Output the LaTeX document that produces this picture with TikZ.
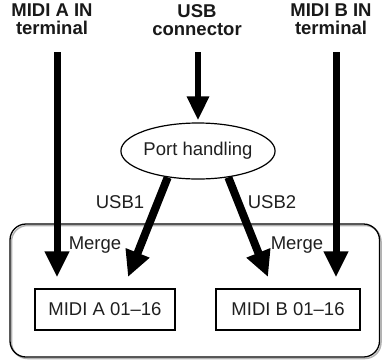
\documentclass[tikz,border=0pt]{standalone}
\usepackage{fontspec}
\setmainfont{Liberation Sans}
\usetikzlibrary{arrows.meta,shapes.geometric}
\begin{document}
\begin{tikzpicture}[x=1pt,y=-1pt,
  txt/.style={text=black!88,font=\fontsize{18.5}{20}\selectfont,inner sep=0pt},
  ttl/.style={text=black!90,font=\fontsize{18.5}{18}\selectfont\bfseries,align=center,inner sep=0pt,anchor=north},
  midibox/.style={draw,line width=1.2pt,minimum height=41pt,txt},
  bigarrow/.style={line width=7pt,-{Triangle[width=23pt,length=26pt]}},
]
\useasboundingbox (0,0) rectangle (382,360);
% outer rounded frame
\draw[gray!60,line width=1.5pt,rounded corners=16pt] (11.5,225.5) rectangle (381,358.5);
\draw[line width=1.3pt,rounded corners=16pt] (10,224) rectangle (379.5,357);
% titles
\node[ttl] (tA) at (52,4) {MIDI A IN\\terminal};
\node[ttl] (tU) at (197,4) {USB\\connector};
\node[ttl] (tB) at (331,4) {MIDI B IN\\terminal};
% nodes
\node[draw,ellipse,line width=1.2pt,minimum width=131pt,minimum height=56pt,txt] (port) at (198,151) {Port handling};
\node[midibox,minimum width=140pt] (boxA) at (105,309.5) {MIDI A 01--16};
\node[midibox,minimum width=144pt] (boxB) at (288,309.5) {MIDI B 01--16};
% coordinates
\coordinate (a0) at (57,52);
\coordinate (b0) at (336,52);
\coordinate (u0) at (198,52);
\coordinate (tipA) at (128,277);
\coordinate (tipB) at (268,277);
% arrows
\draw[bigarrow] (a0) -- ([yshift=11pt]a0 |- boxA.north);
\draw[bigarrow] (b0) -- ([yshift=11pt]b0 |- boxB.north);
\draw[line width=6.5pt,-{Triangle[width=21pt,length=24pt]}] (u0) -- ([yshift=2pt]port.north);
\draw[line width=8pt,-{Triangle[width=24pt,length=26pt]}] (port.221) -- (tipA);
\draw[line width=8pt,-{Triangle[width=24pt,length=26pt]}] (port.319) -- (tipB);
% labels
\node[txt] (l1) at (120,202) {USB1};
\node[txt] (l2) at (272,202) {USB2};
\node[txt] (m1) at (95,245) {Merge};
\node[txt] (m2) at (297,245) {Merge};
\end{tikzpicture}
\end{document}
